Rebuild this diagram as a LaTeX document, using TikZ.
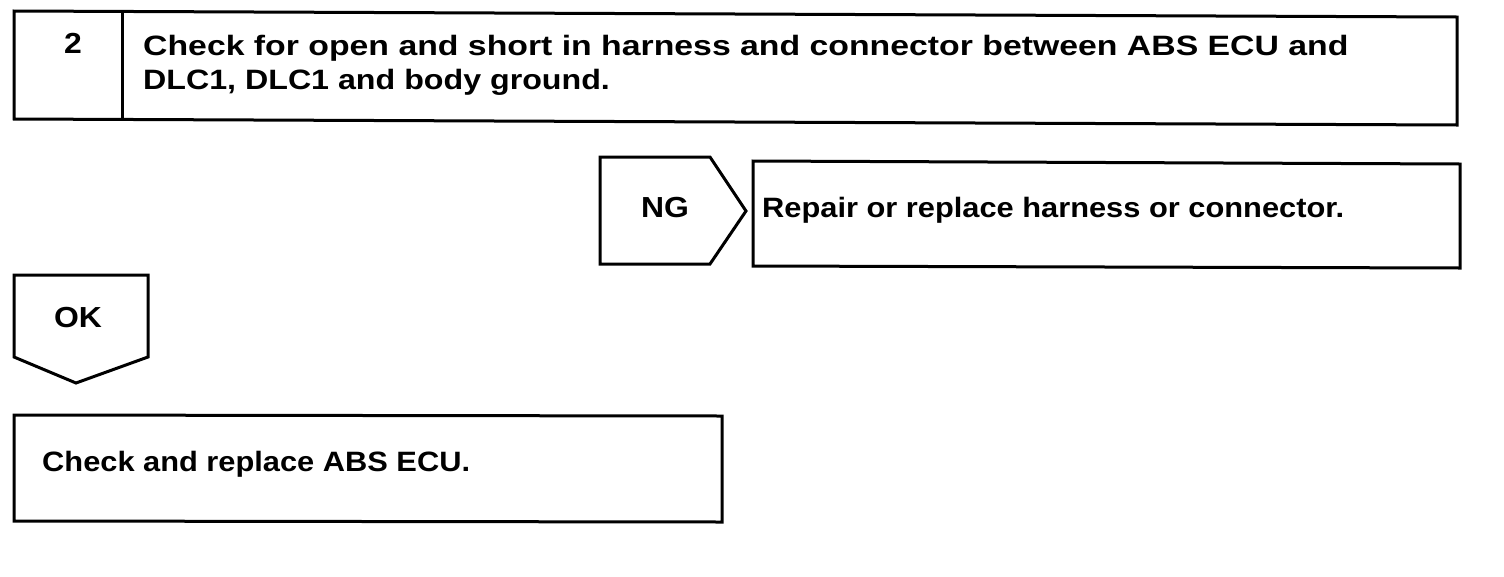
\documentclass[tikz,border=0pt]{standalone}
\usepackage{fontspec}
\setmainfont[FakeStretch=1.1]{Liberation Sans}
\tikzset{
  box/.style={draw=black, line width=3pt, line join=miter},
  txt/.style={font=\bfseries\fontsize{28}{30}\selectfont, inner sep=0pt, anchor=base west},
  lbl/.style={font=\bfseries\fontsize{29}{30}\selectfont, inner sep=0pt, anchor=base}
}
\begin{document}
\begin{tikzpicture}[x=1pt,y=-1pt]
\useasboundingbox (0,0) rectangle (1504,576);
% top box
\draw[box] (14,11) -- (1457,17) -- (1457,125) -- (14,119) -- cycle;
\draw[box] (122,11) -- (122,119);
\node[lbl] (num) at (73,53) {2};
\node[txt] (l1) at (143,55) {\scalebox{1.097}[1]{Check for open and short in harness and connector between ABS ECU and}};
\node[txt] (l2) at (143,89) {\scalebox{1.045}[1]{DLC1, DLC1 and body ground.}};
% NG
\draw[box] (600,157) -- (710,157) -- (746,211) -- (710,264) -- (600,264) -- cycle;
\node[lbl] (ng) at (665,217) {NG};
\draw[box] (753,161) -- (1460,164) -- (1460,268) -- (753,266) -- cycle;
\node[txt] (rep) at (762,217) {Repair or replace harness or connector.};
% OK
\draw[box] (14,275) -- (148,275) -- (148,357) -- (76,383) -- (14,357) -- cycle;
\node[lbl] (ok) at (78,327) {OK};
% bottom box
\draw[box] (14,415) -- (722,416) -- (722,522) -- (14,521) -- cycle;
\node[txt] (chk) at (42,471) {Check and replace ABS ECU.};
\end{tikzpicture}
\end{document}
